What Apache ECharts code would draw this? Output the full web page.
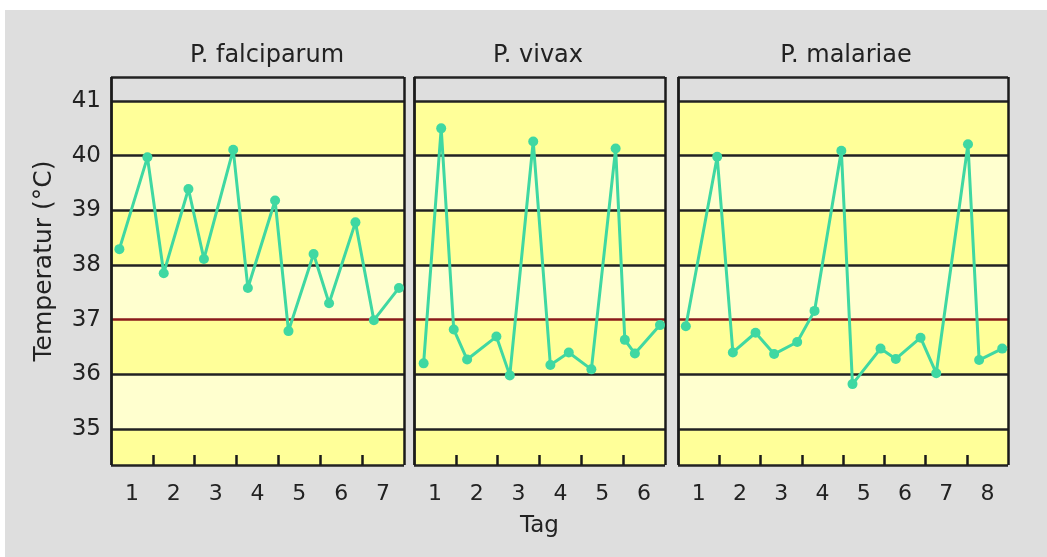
<!DOCTYPE html>
<html>
<head>
<meta charset="utf-8">
<script src="https://cdn.jsdelivr.net/npm/echarts@6/dist/echarts.min.js"></script>
<style>
html,body{margin:0;padding:0;background:#ffffff;}
#c{width:1047px;height:557px;}
</style>
</head>
<body>
<div id="c"></div>
<script>
// ---- data ----
const panelTitles = ['P. falciparum', 'P. vivax', 'P. malariae'];
const panelDays = [7, 6, 8];
const yTicks = [35, 36, 37, 38, 39, 40, 41];

const days1 = [0.20, 0.87, 1.26, 1.85, 2.22, 2.92, 3.27, 3.92, 4.24, 4.84, 5.21, 5.84, 6.28, 6.88];
const temps1 = [38.29, 39.97, 37.85, 39.39, 38.11, 40.11, 37.58, 39.18, 36.79, 38.20, 37.30, 38.78, 36.99, 37.58];

const days2 = [0.23, 0.65, 0.95, 1.27, 1.97, 2.29, 2.85, 3.26, 3.70, 4.24, 4.82, 5.04, 5.28, 5.88];
const temps2 = [36.20, 40.50, 36.82, 36.27, 36.69, 35.98, 40.26, 36.17, 36.40, 36.09, 40.13, 36.63, 36.38, 36.90];

const days3 = [0.19, 0.95, 1.33, 1.88, 2.33, 2.89, 3.31, 3.96, 4.23, 4.91, 5.28, 5.88, 6.26, 7.03, 7.30, 7.86];
const temps3 = [36.88, 39.98, 36.40, 36.76, 36.37, 36.59, 37.16, 40.09, 35.82, 36.47, 36.28, 36.67, 36.02, 40.21, 36.26, 36.47];

const yName = 'Temperatur (°C)';
const xName = 'Tag';

// ---- layout / style ----
const Y_MIN = 34.34, Y_MAX = 41.44;
const FONT = "'DejaVu Sans', Verdana, sans-serif";
const grids = [
  {left: 111, top: 77, width: 293, height: 388},
  {left: 414, top: 77, width: 251, height: 388},
  {left: 678, top: 77, width: 330, height: 388}
];
const titleX = [267, 538, 846];
const DARK_Y = '#ffff99', LIGHT_Y = '#ffffcf';
const GREEN = '#3fd8a2';

const allDays = [days1, days2, days3];
const allTemps = [temps1, temps2, temps3];

function bands() {
  const b = [];
  const edges = [Y_MIN].concat(yTicks);
  for (let i = 0; i < edges.length - 1; i++) {
    const fromTop = (edges.length - 2) - i; // 0 for 40-41 band
    b.push([{yAxis: edges[i], itemStyle: {color: fromTop % 2 === 0 ? DARK_Y : LIGHT_Y}}, {yAxis: edges[i + 1]}]);
  }
  return b;
}
function hlines(nDays) {
  const l = yTicks.map(v => ({
    yAxis: v,
    lineStyle: {color: v === 37 ? '#8a1a1a' : '#222', width: 2.5, type: 'solid'}
  }));
  l.push({yAxis: Y_MAX, lineStyle: {color: '#222', width: 2.5, type: 'solid'}});
  l.push({yAxis: Y_MIN, lineStyle: {color: '#222', width: 2.5, type: 'solid'}});
  l.push({xAxis: 0, lineStyle: {color: '#1a1a1a', width: 2.8, type: 'solid'}});
  l.push({xAxis: nDays, lineStyle: {color: '#1a1a1a', width: 2.5, type: 'solid'}});
  return l;
}

const option = {
  backgroundColor: '#ffffff',
  animation: false,
  graphic: [{type: 'rect', left: 5, top: 10, shape: {width: 1042, height: 547}, style: {fill: '#dedede'}, z: -10, silent: true}],
  title: panelTitles.map((t, i) => ({
    text: t, left: titleX[i], top: 44, textAlign: 'center', padding: 0,
    textStyle: {fontFamily: FONT, fontSize: 24, fontWeight: 'normal', color: '#222'}
  })),
  grid: grids.map(g => Object.assign({show: true, backgroundColor: '#dedede', borderWidth: 0}, g)),
  xAxis: panelDays.map((n, i) => {
    const labels = [], ticks = [];
    for (let d = 0; d < n; d++) labels.push(d + 0.5);
    for (let d = 1; d < n; d++) ticks.push(d);
    return {
      type: 'value', gridIndex: i, min: 0, max: n, z: 4,
      name: i === 1 ? xName : '', nameLocation: 'middle', nameGap: 50,
      nameTextStyle: {fontFamily: FONT, fontSize: 23, color: '#222'},
      splitLine: {show: false},
      axisLine: {show: false},
      axisTick: {show: true, inside: true, length: 10, customValues: ticks, lineStyle: {color: '#1a1a1a', width: 2.5}},
      axisLabel: {customValues: labels, formatter: v => String(Math.round(v + 0.5)), margin: 18,
        fontFamily: FONT, fontSize: 22, color: '#222'}
    };
  }),
  yAxis: panelDays.map((n, i) => ({
    type: 'value', gridIndex: i, min: Y_MIN, max: Y_MAX,
    name: i === 0 ? yName : '', nameLocation: 'middle', nameGap: 54,
    nameTextStyle: {fontFamily: FONT, fontSize: 25, color: '#222', padding: [0, 0, 0, 20]},
    splitLine: {show: false},
    axisLine: {show: false},
    axisTick: {show: false},
    axisLabel: {show: i === 0, customValues: yTicks, margin: 10, fontFamily: FONT, fontSize: 23, color: '#222'}
  })),
  series: panelDays.map((n, i) => ({
    type: 'line', xAxisIndex: i, yAxisIndex: i, z: 3,
    data: allDays[i].map((d, k) => [d, allTemps[i][k]]),
    symbol: 'circle', symbolSize: 10, showSymbol: true,
    lineStyle: {color: GREEN, width: 3},
    itemStyle: {color: GREEN},
    clip: false,
    markArea: {silent: true, z: 1, data: bands()},
    markLine: {silent: true, z: 2, symbol: 'none', label: {show: false}, data: hlines(n)}
  }))
};

const chart = echarts.init(document.getElementById('c'), null, {renderer: 'canvas'});
chart.setOption(option);
</script>
</body>
</html>
